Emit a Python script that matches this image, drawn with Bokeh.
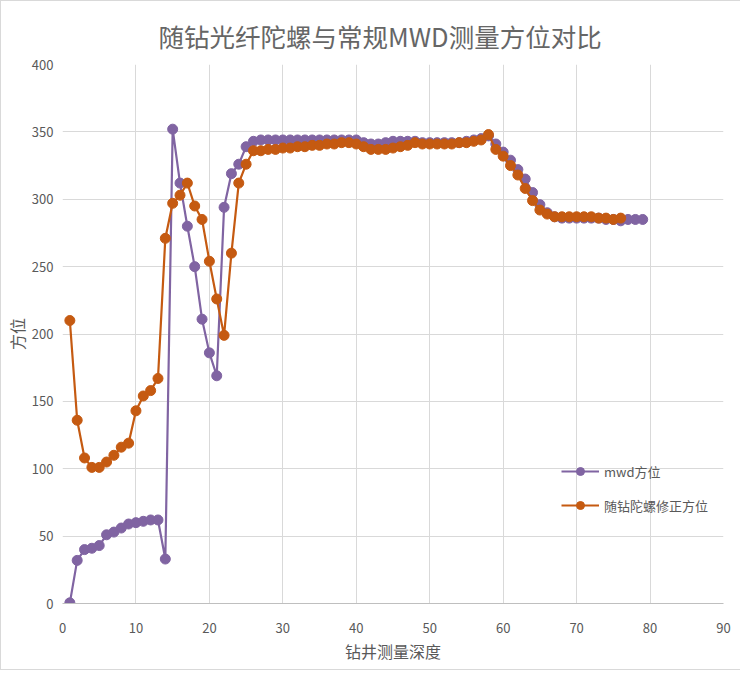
from bokeh.plotting import figure
from bokeh.models import Legend, LegendItem, Range1d, FixedTicker
from bokeh.embed import file_html
from bokeh.resources import INLINE

title_text = "随钻光纤陀螺与常规MWD测量方位对比"
x_label = "钻井测量深度"
y_label = "方位"
mwd_name = "mwd方位"
gyro_name = "随钻陀螺修正方位"

mwd_depth = list(range(1, 80))
mwd_azimuth = [0.5, 32, 40, 41, 43, 51, 53, 56, 59, 60, 61, 62, 62, 33, 352, 312, 280, 250, 211, 186,
               169, 294, 319, 326, 339, 343, 344, 344, 344, 344, 344, 344, 344, 344, 344, 344, 344, 344, 344, 344,
               342, 341, 341, 342, 343, 343, 343, 343, 342, 342, 342, 342, 342, 342, 343, 344, 345, 347, 341, 335,
               329, 322, 315, 305, 296, 290, 287, 286, 286, 286, 286, 286, 286, 285, 285, 284, 285, 285, 285]

gyro_depth = list(range(1, 77))
gyro_azimuth = [210, 136, 108, 101, 101, 105, 110, 116, 119, 143, 154, 158, 167, 271, 297, 303, 312, 295, 285, 254,
                226, 199, 260, 312, 326, 336, 336, 337, 337, 338, 338, 339, 339, 340, 340, 341, 341, 342, 342, 341,
                339, 337, 337, 337, 338, 339, 340, 342, 341, 341, 341, 341, 341, 342, 342, 343, 344, 348, 337, 332,
                325, 318, 308, 299, 292, 289, 287, 287, 287, 287, 287, 287, 286, 286, 285, 286]

x_ticks = list(range(0, 100, 10))
y_ticks = list(range(0, 450, 50))

purple = "#8064A2"
orange = "#C55A11"
gray_text = "#595959"
font = "Noto Sans CJK SC"

p = figure(width=740, height=670, output_backend="svg", toolbar_location=None,
           x_range=Range1d(0, 90), y_range=Range1d(0, 400),
           min_border_left=61, min_border_right=18, min_border_top=63, min_border_bottom=68)
p.styles = {"border-left": "1px solid #d9d9d9", "border-top": "1px solid #d9d9d9",
            "border-bottom": "1px solid #d9d9d9"}

p.title.text = title_text
p.title.align = "left"
p.title.text_font = font
p.title.text_font_size = "25.5px"
p.title.text_font_style = "normal"
p.title.text_color = "#666666"
p.title.text_line_height = 1.0
p.title.offset = 96
p.title.standoff = 22

p.outline_line_color = None
p.xgrid.grid_line_color = "#d9d9d9"
p.ygrid.grid_line_color = "#d9d9d9"
p.xaxis.ticker = FixedTicker(ticks=x_ticks)
p.yaxis.ticker = FixedTicker(ticks=y_ticks)

for ax in (p.xaxis[0], p.yaxis[0]):
    ax.major_tick_line_color = None
    ax.minor_tick_line_color = None
    ax.major_tick_out = 0
    ax.major_tick_in = 0
    ax.minor_tick_out = 0
    ax.minor_tick_in = 0
    ax.major_label_text_color = gray_text
    ax.major_label_text_font = font
    ax.major_label_text_font_size = "13px"
    ax.axis_label_text_font = font
    ax.axis_label_text_font_size = "16px"
    ax.axis_label_text_font_style = "normal"
    ax.axis_label_text_color = gray_text

p.xaxis.axis_line_color = "#bfbfbf"
p.yaxis.axis_line_color = None
p.xaxis.axis_label = x_label
p.yaxis.axis_label = y_label
p.xaxis.major_label_standoff = 19
p.yaxis.major_label_standoff = 9
p.xaxis.axis_label_standoff = 3
p.yaxis.axis_label_standoff = 0

l1 = p.line(mwd_depth, mwd_azimuth, line_color=purple, line_width=2.2)
s1 = p.scatter(mwd_depth, mwd_azimuth, size=10, fill_color=purple, line_color=purple)
l2 = p.line(gyro_depth, gyro_azimuth, line_color=orange, line_width=2.2)
s2 = p.scatter(gyro_depth, gyro_azimuth, size=10, fill_color=orange, line_color=orange)

legend = Legend(items=[LegendItem(label=mwd_name, renderers=[l1, s1]),
                       LegendItem(label=gyro_name, renderers=[l2, s2])],
                location=(499, 88), background_fill_alpha=0, border_line_color=None,
                label_text_font=font, label_text_font_size="13px", label_text_color=gray_text,
                glyph_width=38, glyph_height=20, spacing=14, label_standoff=5, padding=4, margin=0)
p.add_layout(legend, "center")

open("out.html", "w").write(file_html(p, INLINE))
